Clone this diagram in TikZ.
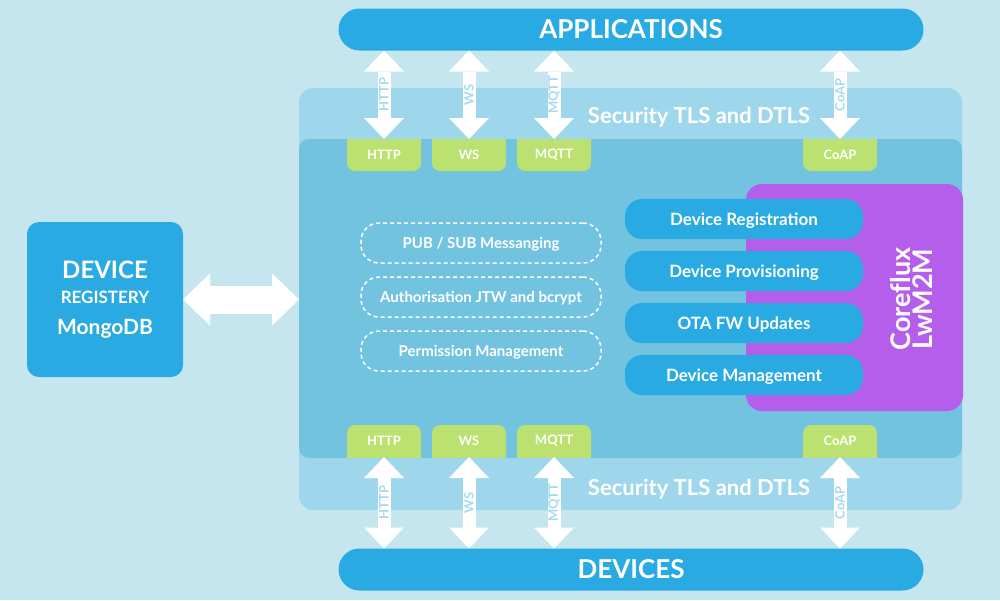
\documentclass[tikz,border=0pt]{standalone}
\usepackage{fontspec}
\setmainfont{Lato}
\usepackage{tikz}
\usetikzlibrary{arrows.meta, positioning, calc}
\definecolor{bgcol}{HTML}{C6E6EF}
\definecolor{seccol}{HTML}{9ED7EC}
\definecolor{corecol}{HTML}{72C3E0}
\definecolor{bluecol}{HTML}{29AAE2}
\definecolor{tabcol}{HTML}{BBE171}
\definecolor{purpcol}{HTML}{B55EEB}
\definecolor{arrtxt}{HTML}{A7DAEE}

\begin{document}
\begin{tikzpicture}[x=1pt, y=-1pt,
  every node/.style={outer sep=0pt, inner sep=0pt},
  band/.style={rectangle, rounded corners=14pt, minimum width=663pt},
  bar/.style={rectangle, rounded corners=21pt, fill=bluecol, text=white,
              minimum width=585pt, minimum height=42pt,
              font=\fontsize{26}{26}\selectfont\bfseries},
  sectxt/.style={text=white, text depth=0pt, font=\fontsize{22}{22}\selectfont\bfseries},
  tabbox/.style={rectangle, minimum width=74pt, minimum height=32pt, text=white,
              font=\fontsize{13}{13}\selectfont\bfseries},
  tabup/.style={tabbox, path picture={\fill[tabcol, rounded corners=8pt]
              ([yshift=10pt]path picture bounding box.north west) rectangle
              (path picture bounding box.south east);}},
  tabdn/.style={tabbox, path picture={\fill[tabcol, rounded corners=8pt]
              (path picture bounding box.north west) rectangle
              ([yshift=-10pt]path picture bounding box.south east);}},
  varr/.style={draw=white, line width=13pt,
              {Triangle[width=40pt, length=21pt, line width=0pt]}-{Triangle[width=40pt, length=21pt, line width=0pt]}},
  harr/.style={draw=white, line width=28pt,
              {Triangle[width=52pt, length=27pt, line width=0pt]}-{Triangle[width=52pt, length=27pt, line width=0pt]}},
  lbl/.style={midway, rotate=90, text=arrtxt, font=\fontsize{13}{13}\selectfont\bfseries},
  regbox/.style={rectangle, rounded corners=12pt, fill=bluecol, text=white,
              minimum width=156pt, minimum height=155pt, align=center,
              font=\fontsize{17}{25}\selectfont\bfseries},
  pill/.style={rectangle, rounded corners=17pt, fill=bluecol, text=white,
              minimum width=238pt, minimum height=40pt, text depth=0pt,
              font=\fontsize{17}{17}\selectfont\bfseries},
  dashbox/.style={rectangle, rounded corners=18pt, draw=white, line width=1.5pt,
              dash pattern=on 4pt off 3pt, minimum width=240pt, minimum height=40pt,
              text depth=0pt, text=white, font=\fontsize{15}{15}\selectfont\bfseries},
  corefx/.style={rotate=90, text=white, align=center,
              font=\fontsize{27}{22}\selectfont\bfseries},
]
\path[use as bounding box, fill=bgcol] (0,0) rectangle (1000,600);

% security band and core
\node[band, fill=seccol, minimum height=422pt] (sec) at (630.5,299) {};
\node[band, fill=corecol, rounded corners=10pt, minimum height=319pt] (core) at (630.5,298.5) {};
\node[sectxt] (st1) at (699,115) {Security TLS and DTLS};
\node[sectxt] (st2) at (699,487) {Security TLS and DTLS};

% applications / devices
\node[bar] (app) at (631,29.5) {APPLICATIONS};
\node[bar] (dev) at (631,569.5) {DEVICES};

% protocol tabs
\node[tabup] (th) at (384,155) {HTTP};
\node[tabup, right=11pt of th] (tw) {WS};
\node[tabup, right=11pt of tw] (tm) {MQTT};
\node[tabup] (tc) at (840,155) {CoAP};
\node[tabdn] (bh) at (384,441) {HTTP};
\node[tabdn, right=11pt of bh] (bw) {WS};
\node[tabdn, right=11pt of bw] (bm) {MQTT};
\node[tabdn] (bc) at (840,441) {CoAP};

\draw[varr] (th.north) -- node[lbl]{HTTP} (app.south -| th.north);
\draw[varr] (tw.north) -- node[lbl]{WS} (app.south -| tw.north);
\draw[varr] (tm.north) -- node[lbl]{MQTT} (app.south -| tm.north);
\draw[varr] (tc.north) -- node[lbl]{CoAP} (app.south -| tc.north);
\draw[varr] (dev.north -| bh.south) -- node[lbl]{HTTP} (bh.south);
\draw[varr] (dev.north -| bw.south) -- node[lbl]{WS} (bw.south);
\draw[varr] (dev.north -| bm.south) -- node[lbl]{MQTT} (bm.south);
\draw[varr] (dev.north -| bc.south) -- node[lbl]{CoAP} (bc.south);

% registry
\node[regbox] (reg) at (105,299.5) {{\fontsize{24}{25}\selectfont DEVICE}\\REGISTERY\\[6pt]{\fontsize{21}{25}\selectfont MongoDB}};
\draw[harr] (reg.east) -- (core.west |- reg.east);

% broker services
\node[dashbox] (pub) at (481,243) {PUB / SUB Messanging};
\node[dashbox, below=14pt of pub] (auth) {Authorisation JTW and bcrypt};
\node[dashbox, below=14pt of auth] (perm) {Permission Management};

% lwm2m
\node[rectangle, rounded corners=16pt, fill=purpcol, minimum width=217pt, minimum height=227pt] (lwm) at (854.5,297.5) {};
\node[corefx] (cfx) at (911,299) {Coref\kern0pt lux\\LwM2M};
\node[pill] (dreg) at (744,219) {Device Registration};
\node[pill, below=12pt of dreg] (dprov) {Device Provisioning};
\node[pill, below=12pt of dprov] (ota) {OTA FW Updates};
\node[pill, below=12pt of ota] (dman) {Device Management};
\end{tikzpicture}
\end{document}
